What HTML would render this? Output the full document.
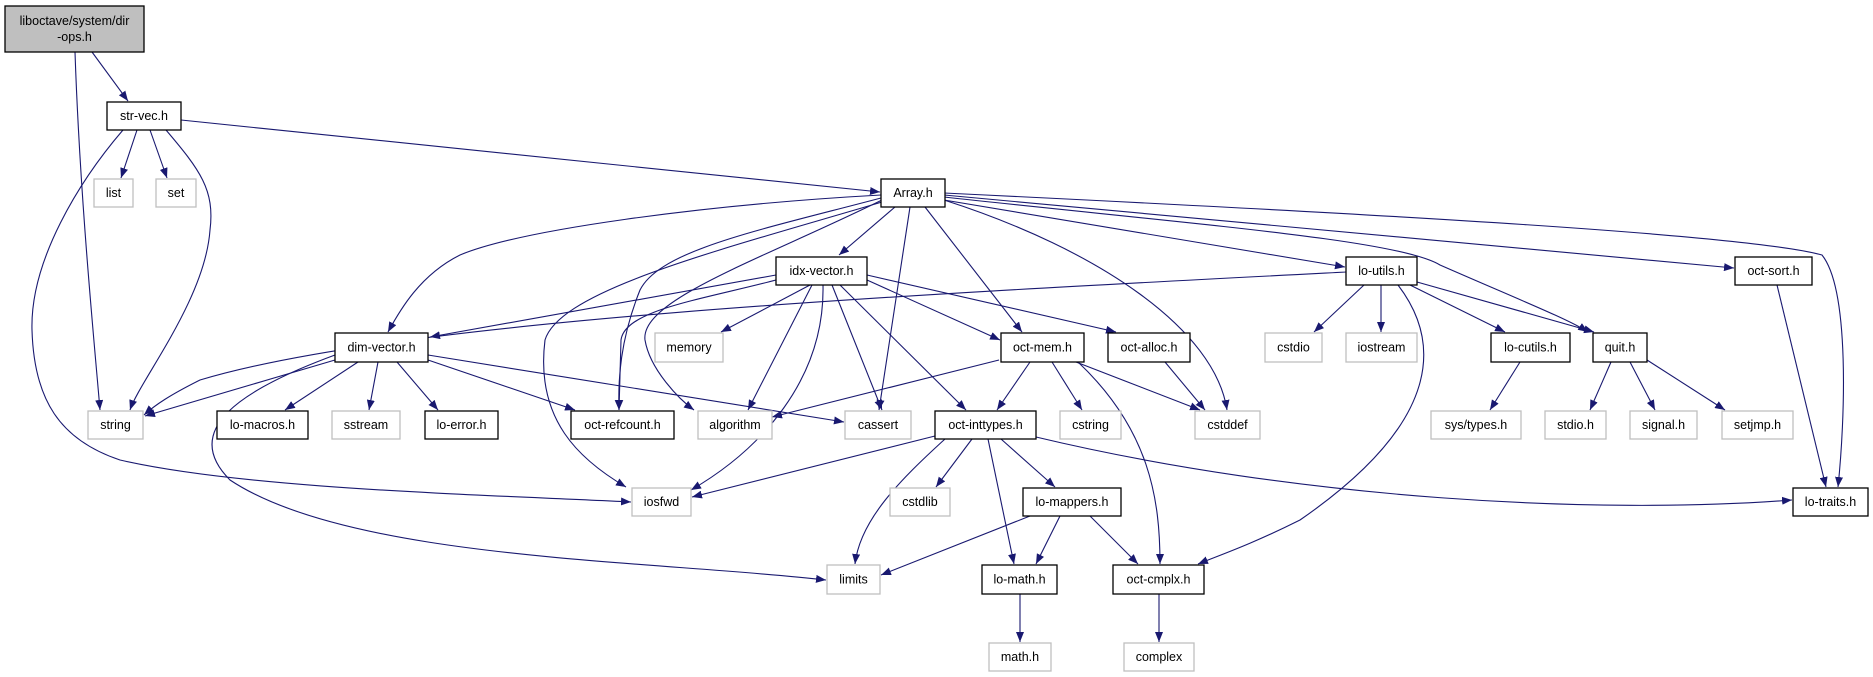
<!DOCTYPE html>
<html><head><meta charset="utf-8"><style>
html,body{margin:0;padding:0;background:#fff;}
svg{display:block;}
text{font-family:"Liberation Sans",Arial,sans-serif;font-size:12.5px;fill:#000;text-anchor:middle;dominant-baseline:central;}
.b{fill:#fff;stroke:#000;stroke-width:1.3;}
.g{fill:#fff;stroke:#bfbfbf;stroke-width:1.3;}
.e{fill:none;stroke:#191970;stroke-width:1.1;marker-end:url(#a);}
</style></head><body>
<svg width="1873" height="677" viewBox="0 0 1873 677" xmlns="http://www.w3.org/2000/svg">
<defs><marker id="a" markerUnits="userSpaceOnUse" markerWidth="11" markerHeight="8" refX="10" refY="4" orient="auto"><path d="M0,0 L10,4 L0,8 z" fill="#191970"/></marker></defs>
<g>
<path class="e" d="M92,52 L128,101"/>
<path class="e" d="M75,52 C80,200 95,350 100,410"/>
<path class="e" d="M137,130 L121,178"/>
<path class="e" d="M150,130 L167,178"/>
<path class="e" d="M166,130 C200,170 215,190 210,230 C205,300 140,380 130,410"/>
<path class="e" d="M123,130 C80,180 30,260 32,330 C34,400 60,440 120,460 C250,490 500,495 631,502"/>
<path class="e" d="M181,120 L880,192"/>
<path class="e" d="M881,195 C700,205 520,230 460,255 C420,275 400,310 388,332"/>
<path class="e" d="M895,207 L839,255"/>
<path class="e" d="M910,207 L879,410"/>
<path class="e" d="M925,207 L1022,332"/>
<path class="e" d="M944,200 C1100,250 1215,330 1227,410"/>
<path class="e" d="M944,200 L1345,267"/>
<path class="e" d="M944,197 C1200,225 1400,240 1440,265 C1520,300 1570,320 1588,332"/>
<path class="e" d="M944,195 L1734,268"/>
<path class="e" d="M944,193 C1400,215 1750,235 1822,255 C1850,290 1845,420 1838,487"/>
<path class="e" d="M881,198 C760,230 660,250 640,290 C620,340 618,380 619,410"/>
<path class="e" d="M882,200 C760,260 640,300 645,340 C650,370 680,400 694,410"/>
<path class="e" d="M882,202 C720,250 560,290 545,340 C535,420 580,460 626,487"/>
<path class="e" d="M776,275 L430,337"/>
<path class="e" d="M776,280 C700,300 625,310 621,340 L619,410"/>
<path class="e" d="M810,285 L721,332"/>
<path class="e" d="M812,285 L748,410"/>
<path class="e" d="M823,285 C825,380 760,450 691,490"/>
<path class="e" d="M832,285 L882,410"/>
<path class="e" d="M840,285 L966,410"/>
<path class="e" d="M867,280 L1000,340"/>
<path class="e" d="M867,275 L1116,332"/>
<path class="e" d="M1346,272 C900,295 400,320 200,380 C170,395 155,405 144,415"/>
<path class="e" d="M1364,285 L1314,332"/>
<path class="e" d="M1381,285 L1381,332"/>
<path class="e" d="M1398,285 C1440,340 1445,420 1300,520 C1250,545 1220,555 1198,564"/>
<path class="e" d="M1410,285 L1505,332"/>
<path class="e" d="M1417,282 L1594,332"/>
<path class="e" d="M1777,285 L1826,487"/>
<path class="e" d="M1520,362 L1490,410"/>
<path class="e" d="M1611,362 L1590,410"/>
<path class="e" d="M1630,362 L1655,410"/>
<path class="e" d="M1647,360 L1725,410"/>
<path class="e" d="M1165,362 L1205,410"/>
<path class="e" d="M999,360 L772,417"/>
<path class="e" d="M1030,362 L997,410"/>
<path class="e" d="M1052,362 L1082,410"/>
<path class="e" d="M1076,362 L1200,410"/>
<path class="e" d="M1078,362 C1150,430 1160,500 1160,564"/>
<path class="e" d="M335,360 L145,416"/>
<path class="e" d="M358,362 L285,410"/>
<path class="e" d="M378,362 L369,410"/>
<path class="e" d="M397,362 L438,410"/>
<path class="e" d="M428,360 L575,410"/>
<path class="e" d="M428,355 L844,422"/>
<path class="e" d="M335,355 C240,390 180,430 230,480 C350,560 650,560 826,580"/>
<path class="e" d="M935,436 L692,497"/>
<path class="e" d="M972,439 L936,487"/>
<path class="e" d="M945,439 C900,480 860,520 855,564"/>
<path class="e" d="M988,439 L1014,564"/>
<path class="e" d="M1001,439 L1055,487"/>
<path class="e" d="M1036,437 C1300,500 1600,515 1792,500"/>
<path class="e" d="M1030,516 L881,575"/>
<path class="e" d="M1060,516 L1036,564"/>
<path class="e" d="M1090,516 L1138,564"/>
<path class="e" d="M1020,594 L1020,642"/>
<path class="e" d="M1159,594 L1159,642"/>
</g>
<g>
<rect x="5" y="6" width="139" height="46" fill="#bfbfbf" stroke="#000" stroke-width="1.3"/>
<text x="74.5" y="21">liboctave/system/dir</text><text x="74.5" y="37">-ops.h</text>

<rect class="b" x="107" y="102" width="74" height="28"/><text x="144" y="116">str-vec.h</text>
<rect class="g" x="94" y="179" width="39" height="28"/><text x="113.5" y="193">list</text>
<rect class="g" x="156" y="179" width="40" height="28"/><text x="176" y="193">set</text>
<rect class="b" x="881" y="179" width="64" height="28"/><text x="913" y="193">Array.h</text>

<rect class="b" x="776" y="257" width="91" height="28"/><text x="821.5" y="271">idx-vector.h</text>
<rect class="b" x="1346" y="257" width="71" height="28"/><text x="1381.5" y="271">lo-utils.h</text>
<rect class="b" x="1735" y="257" width="77" height="28"/><text x="1773.5" y="271">oct-sort.h</text>

<rect class="b" x="335" y="333" width="93" height="29"/><text x="381.5" y="347.5">dim-vector.h</text>
<rect class="g" x="655" y="333" width="68" height="29"/><text x="689" y="347.5">memory</text>
<rect class="b" x="1001" y="333" width="83" height="29"/><text x="1042.5" y="347.5">oct-mem.h</text>
<rect class="b" x="1108" y="333" width="82" height="29"/><text x="1149" y="347.5">oct-alloc.h</text>
<rect class="g" x="1265" y="333" width="57" height="29"/><text x="1293.5" y="347.5">cstdio</text>
<rect class="g" x="1346" y="333" width="71" height="29"/><text x="1381.5" y="347.5">iostream</text>
<rect class="b" x="1491" y="333" width="79" height="29"/><text x="1530.5" y="347.5">lo-cutils.h</text>
<rect class="b" x="1593" y="333" width="54" height="29"/><text x="1620" y="347.5">quit.h</text>

<rect class="g" x="88" y="411" width="55" height="28"/><text x="115.5" y="425">string</text>
<rect class="b" x="217" y="411" width="91" height="28"/><text x="262.5" y="425">lo-macros.h</text>
<rect class="g" x="332" y="411" width="68" height="28"/><text x="366" y="425">sstream</text>
<rect class="b" x="425" y="411" width="73" height="28"/><text x="461.5" y="425">lo-error.h</text>
<rect class="b" x="571" y="411" width="103" height="28"/><text x="622.5" y="425">oct-refcount.h</text>
<rect class="g" x="698" y="411" width="74" height="28"/><text x="735" y="425">algorithm</text>
<rect class="g" x="845" y="411" width="66" height="28"/><text x="878" y="425">cassert</text>
<rect class="b" x="935" y="411" width="101" height="28"/><text x="985.5" y="425">oct-inttypes.h</text>
<rect class="g" x="1060" y="411" width="61" height="28"/><text x="1090.5" y="425">cstring</text>
<rect class="g" x="1195" y="411" width="65" height="28"/><text x="1227.5" y="425">cstddef</text>
<rect class="g" x="1431" y="411" width="90" height="28"/><text x="1476" y="425">sys/types.h</text>
<rect class="g" x="1545" y="411" width="61" height="28"/><text x="1575.5" y="425">stdio.h</text>
<rect class="g" x="1630" y="411" width="67" height="28"/><text x="1663.5" y="425">signal.h</text>
<rect class="g" x="1722" y="411" width="71" height="28"/><text x="1757.5" y="425">setjmp.h</text>

<rect class="g" x="632" y="488" width="59" height="28"/><text x="661.5" y="502">iosfwd</text>
<rect class="g" x="890" y="488" width="60" height="28"/><text x="920" y="502">cstdlib</text>
<rect class="b" x="1023" y="488" width="98" height="28"/><text x="1072" y="502">lo-mappers.h</text>
<rect class="b" x="1793" y="488" width="75" height="28"/><text x="1830.5" y="502">lo-traits.h</text>

<rect class="g" x="827" y="565" width="53" height="29"/><text x="853.5" y="579.5">limits</text>
<rect class="b" x="982" y="565" width="75" height="29"/><text x="1019.5" y="579.5">lo-math.h</text>
<rect class="b" x="1113" y="565" width="91" height="29"/><text x="1158.5" y="579.5">oct-cmplx.h</text>

<rect class="g" x="989" y="643" width="62" height="28"/><text x="1020" y="657">math.h</text>
<rect class="g" x="1124" y="643" width="70" height="28"/><text x="1159" y="657">complex</text>
</g>
</svg>
</body></html>
